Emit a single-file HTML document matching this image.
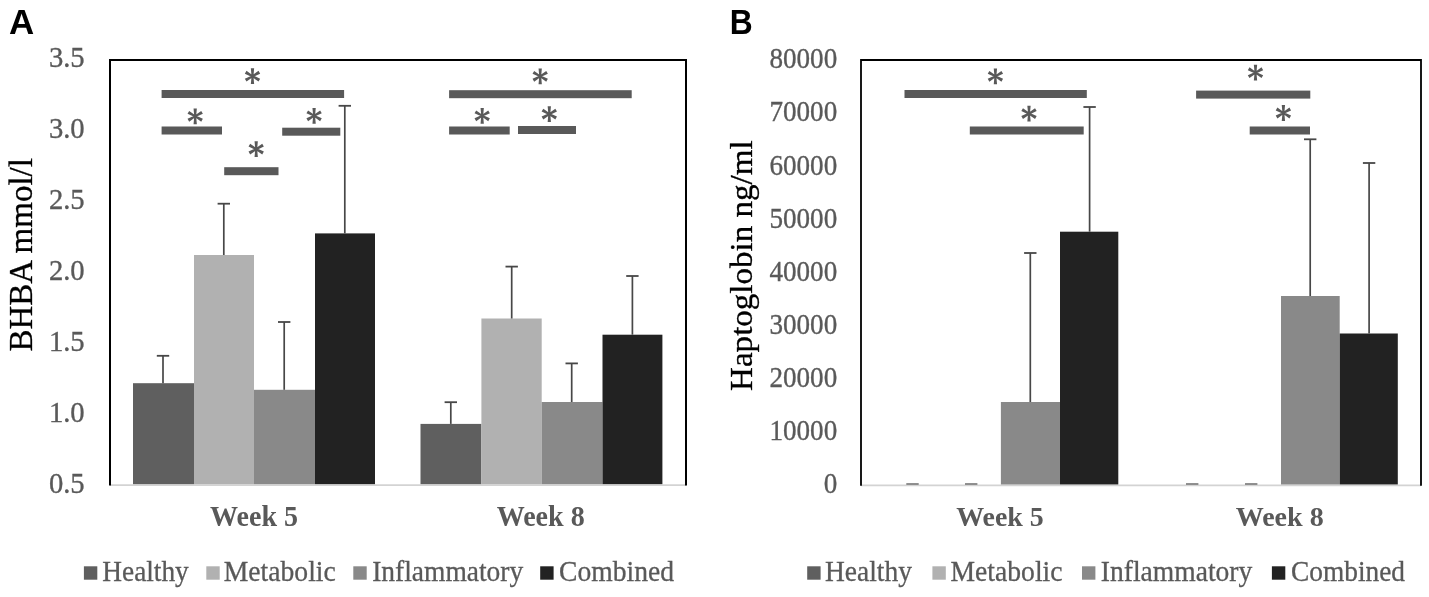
<!DOCTYPE html>
<html><head><meta charset="utf-8"><title>Figure</title>
<style>
html,body{margin:0;padding:0;background:#fff;width:1429px;height:597px;overflow:hidden}
svg{display:block;will-change:transform}
text{font-family:"Liberation Serif",serif}
.tick{fill:#595959;stroke:#595959;stroke-width:0.35px}
.ytitle{fill:#000;stroke:#000;stroke-width:0.3px}
.letter{font-family:"Liberation Sans",sans-serif;font-weight:bold;fill:#000}
.cat{font-weight:bold;fill:#595959}
.leg{fill:#595959;stroke:#595959;stroke-width:0.3px}
</style></head><body>
<svg width="1429" height="597" viewBox="0 0 1429 597">
<rect width="1429" height="597" fill="#fff"/>
<rect x="133" y="383.2" width="61.00" height="101.30" fill="#5f5f5f"/>
<line x1="163" y1="383.2" x2="163" y2="355.8" stroke="#474747" stroke-width="1.7"/>
<line x1="156.8" y1="355.8" x2="169.2" y2="355.8" stroke="#474747" stroke-width="1.8"/>
<rect x="194" y="255" width="60.00" height="229.50" fill="#b1b1b1"/>
<line x1="223.8" y1="255" x2="223.8" y2="203.7" stroke="#474747" stroke-width="1.7"/>
<line x1="217.60000000000002" y1="203.7" x2="230.0" y2="203.7" stroke="#474747" stroke-width="1.8"/>
<rect x="254" y="389.8" width="61.00" height="94.70" fill="#898989"/>
<line x1="284.2" y1="389.8" x2="284.2" y2="322" stroke="#474747" stroke-width="1.7"/>
<line x1="278.0" y1="322" x2="290.4" y2="322" stroke="#474747" stroke-width="1.8"/>
<rect x="315" y="233.4" width="60.00" height="251.10" fill="#222222"/>
<line x1="344.8" y1="233.4" x2="344.8" y2="105.8" stroke="#474747" stroke-width="1.7"/>
<line x1="338.6" y1="105.8" x2="351.0" y2="105.8" stroke="#474747" stroke-width="1.8"/>
<rect x="420.5" y="423.9" width="60.90" height="60.60" fill="#5f5f5f"/>
<line x1="450.8" y1="423.9" x2="450.8" y2="402.2" stroke="#474747" stroke-width="1.7"/>
<line x1="444.6" y1="402.2" x2="457.0" y2="402.2" stroke="#474747" stroke-width="1.8"/>
<rect x="481.4" y="318.5" width="60.30" height="166.00" fill="#b1b1b1"/>
<line x1="511.7" y1="318.5" x2="511.7" y2="266.6" stroke="#474747" stroke-width="1.7"/>
<line x1="505.5" y1="266.6" x2="517.9" y2="266.6" stroke="#474747" stroke-width="1.8"/>
<rect x="541.7" y="402" width="60.80" height="82.50" fill="#898989"/>
<line x1="571.7" y1="402" x2="571.7" y2="363.4" stroke="#474747" stroke-width="1.7"/>
<line x1="565.5" y1="363.4" x2="577.9000000000001" y2="363.4" stroke="#474747" stroke-width="1.8"/>
<rect x="602.5" y="334.7" width="59.90" height="149.80" fill="#222222"/>
<line x1="632.4" y1="334.7" x2="632.4" y2="276" stroke="#474747" stroke-width="1.7"/>
<line x1="626.1999999999999" y1="276" x2="638.6" y2="276" stroke="#474747" stroke-width="1.8"/>
<line x1="110" y1="485.05" x2="686" y2="485.05" stroke="#d3d3d3" stroke-width="1.8"/>
<path d="M110 485.5 L110 60 L686 60 L686 485.5" fill="none" stroke="#000" stroke-width="2"/>
<rect x="161.6" y="90" width="182.50" height="8" fill="#595959"/>
<rect x="161.6" y="126.5" width="60.40" height="8" fill="#595959"/>
<rect x="282.2" y="127.7" width="58.10" height="8" fill="#595959"/>
<rect x="224.2" y="167.2" width="54.30" height="8" fill="#595959"/>
<rect x="449.1" y="90.2" width="182.60" height="8" fill="#595959"/>
<rect x="449.1" y="126.5" width="60.60" height="8" fill="#595959"/>
<rect x="518" y="126" width="58.00" height="8" fill="#595959"/>
<path d="M253.45 76.20L254.15 68.30L250.85 68.30L251.55 76.20ZM251.55 76.20L250.85 84.10L254.15 84.10L253.45 76.20ZM252.97 77.02L260.17 73.68L258.52 70.82L252.03 75.38ZM252.97 75.38L246.48 70.82L244.83 73.68L252.03 77.02ZM252.03 75.38L244.83 78.72L246.48 81.58L252.97 77.02ZM252.03 77.02L258.52 81.58L260.17 78.72L252.97 75.38Z" fill="#595959"/><circle cx="252.5" cy="76.2" r="1.3" fill="#595959"/>
<path d="M196.15 116.30L196.85 108.40L193.55 108.40L194.25 116.30ZM194.25 116.30L193.55 124.20L196.85 124.20L196.15 116.30ZM195.67 117.12L202.87 113.78L201.22 110.92L194.72 115.48ZM195.67 115.48L189.18 110.92L187.53 113.78L194.72 117.12ZM194.72 115.48L187.53 118.82L189.18 121.68L195.67 117.12ZM194.72 117.12L201.22 121.68L202.87 118.82L195.67 115.48Z" fill="#595959"/><circle cx="195.2" cy="116.3" r="1.3" fill="#595959"/>
<path d="M315.05 115.80L315.75 107.90L312.45 107.90L313.15 115.80ZM313.15 115.80L312.45 123.70L315.75 123.70L315.05 115.80ZM314.58 116.62L321.77 113.28L320.12 110.42L313.62 114.98ZM314.58 114.98L308.08 110.42L306.43 113.28L313.62 116.62ZM313.62 114.98L306.43 118.32L308.08 121.18L314.58 116.62ZM313.62 116.62L320.12 121.18L321.77 118.32L314.58 114.98Z" fill="#595959"/><circle cx="314.1" cy="115.8" r="1.3" fill="#595959"/>
<path d="M257.15 149.10L257.85 141.20L254.55 141.20L255.25 149.10ZM255.25 149.10L254.55 157.00L257.85 157.00L257.15 149.10ZM256.68 149.92L263.87 146.58L262.22 143.72L255.72 148.28ZM256.68 148.28L250.18 143.72L248.53 146.58L255.72 149.92ZM255.72 148.28L248.53 151.62L250.18 154.48L256.68 149.92ZM255.72 149.92L262.22 154.48L263.87 151.62L256.68 148.28Z" fill="#595959"/><circle cx="256.2" cy="149.1" r="1.3" fill="#595959"/>
<path d="M541.15 76.30L541.85 68.40L538.55 68.40L539.25 76.30ZM539.25 76.30L538.55 84.20L541.85 84.20L541.15 76.30ZM540.68 77.12L547.87 73.78L546.22 70.92L539.73 75.48ZM540.68 75.48L534.18 70.92L532.53 73.78L539.73 77.12ZM539.73 75.48L532.53 78.82L534.18 81.68L540.68 77.12ZM539.73 77.12L546.22 81.68L547.87 78.82L540.68 75.48Z" fill="#595959"/><circle cx="540.2" cy="76.3" r="1.3" fill="#595959"/>
<path d="M483.15 115.80L483.85 107.90L480.55 107.90L481.25 115.80ZM481.25 115.80L480.55 123.70L483.85 123.70L483.15 115.80ZM482.68 116.62L489.87 113.28L488.22 110.42L481.72 114.98ZM482.68 114.98L476.18 110.42L474.53 113.28L481.72 116.62ZM481.72 114.98L474.53 118.32L476.18 121.18L482.68 116.62ZM481.72 116.62L488.22 121.18L489.87 118.32L482.68 114.98Z" fill="#595959"/><circle cx="482.2" cy="115.8" r="1.3" fill="#595959"/>
<path d="M550.25 114.10L550.95 106.20L547.65 106.20L548.35 114.10ZM548.35 114.10L547.65 122.00L550.95 122.00L550.25 114.10ZM549.77 114.92L556.97 111.58L555.32 108.72L548.82 113.28ZM549.77 113.28L543.28 108.72L541.63 111.58L548.82 114.92ZM548.82 113.28L541.63 116.62L543.28 119.48L549.77 114.92ZM548.82 114.92L555.32 119.48L556.97 116.62L549.77 113.28Z" fill="#595959"/><circle cx="549.3" cy="114.1" r="1.3" fill="#595959"/>
<rect x="83.9" y="566.3" width="13.4" height="13.4" fill="#5f5f5f"/>
<rect x="206.3" y="566.3" width="13.4" height="13.4" fill="#b1b1b1"/>
<rect x="353.3" y="566.3" width="13.4" height="13.4" fill="#898989"/>
<rect x="540.2" y="566.3" width="13.4" height="13.4" fill="#222222"/>
<text x="48.9" y="67.4" class="tick" style="font-size:30.2px" textLength="35.8" lengthAdjust="spacingAndGlyphs">3.5</text>
<text x="48.9" y="138.3" class="tick" style="font-size:30.2px" textLength="35.8" lengthAdjust="spacingAndGlyphs">3.0</text>
<text x="48.9" y="209.2" class="tick" style="font-size:30.2px" textLength="35.8" lengthAdjust="spacingAndGlyphs">2.5</text>
<text x="48.9" y="280.1" class="tick" style="font-size:30.2px" textLength="35.8" lengthAdjust="spacingAndGlyphs">2.0</text>
<text x="48.9" y="351.0" class="tick" style="font-size:30.2px" textLength="35.8" lengthAdjust="spacingAndGlyphs">1.5</text>
<text x="48.9" y="421.9" class="tick" style="font-size:30.2px" textLength="35.8" lengthAdjust="spacingAndGlyphs">1.0</text>
<text x="48.9" y="492.8" class="tick" style="font-size:30.2px" textLength="35.8" lengthAdjust="spacingAndGlyphs">0.5</text>
<text transform="translate(31.6 351.6) rotate(-90)" class="ytitle" style="font-size:34.6px" textLength="193.5" lengthAdjust="spacingAndGlyphs">BHBA mmol/l</text>
<text x="8.9" y="33.7" class="letter" style="font-size:34.6px" textLength="25.2" lengthAdjust="spacingAndGlyphs">A</text>
<text x="210" y="525.7" class="cat" style="font-size:28.4px" textLength="88" lengthAdjust="spacingAndGlyphs">Week 5</text>
<text x="496.7" y="525.7" class="cat" style="font-size:28.4px" textLength="88" lengthAdjust="spacingAndGlyphs">Week 8</text>
<text x="102.3" y="580.8" class="leg" style="font-size:29px" textLength="86.5" lengthAdjust="spacingAndGlyphs">Healthy</text>
<text x="223.8" y="580.8" class="leg" style="font-size:29px" textLength="112" lengthAdjust="spacingAndGlyphs">Metabolic</text>
<text x="372.2" y="580.8" class="leg" style="font-size:29px" textLength="151" lengthAdjust="spacingAndGlyphs">Inflammatory</text>
<text x="559.0" y="580.8" class="leg" style="font-size:29px" textLength="115" lengthAdjust="spacingAndGlyphs">Combined</text>
<line x1="912.5" y1="484.8" x2="912.5" y2="484.3" stroke="#474747" stroke-width="1.7"/>
<line x1="906.3" y1="484.3" x2="918.7" y2="484.3" stroke="#474747" stroke-width="1.8"/>
<line x1="971.2" y1="484.8" x2="971.2" y2="484.3" stroke="#474747" stroke-width="1.7"/>
<line x1="965.0" y1="484.3" x2="977.4000000000001" y2="484.3" stroke="#474747" stroke-width="1.8"/>
<rect x="1000.9" y="402" width="59.10" height="82.80" fill="#898989"/>
<line x1="1030.3" y1="402" x2="1030.3" y2="253" stroke="#474747" stroke-width="1.7"/>
<line x1="1024.1" y1="253" x2="1036.5" y2="253" stroke="#474747" stroke-width="1.8"/>
<rect x="1060" y="231.7" width="58.30" height="253.10" fill="#222222"/>
<line x1="1089.6" y1="231.7" x2="1089.6" y2="107" stroke="#474747" stroke-width="1.7"/>
<line x1="1083.3999999999999" y1="107" x2="1095.8" y2="107" stroke="#474747" stroke-width="1.8"/>
<line x1="1192.2" y1="484.8" x2="1192.2" y2="484.3" stroke="#474747" stroke-width="1.7"/>
<line x1="1186.0" y1="484.3" x2="1198.4" y2="484.3" stroke="#474747" stroke-width="1.8"/>
<line x1="1251.2" y1="484.8" x2="1251.2" y2="484.3" stroke="#474747" stroke-width="1.7"/>
<line x1="1245.0" y1="484.3" x2="1257.4" y2="484.3" stroke="#474747" stroke-width="1.8"/>
<rect x="1281" y="296" width="58.70" height="188.80" fill="#898989"/>
<line x1="1310.2" y1="296" x2="1310.2" y2="139.3" stroke="#474747" stroke-width="1.7"/>
<line x1="1304.0" y1="139.3" x2="1316.4" y2="139.3" stroke="#474747" stroke-width="1.8"/>
<rect x="1339.7" y="333.5" width="58.10" height="151.30" fill="#222222"/>
<line x1="1369.1" y1="333.5" x2="1369.1" y2="163" stroke="#474747" stroke-width="1.7"/>
<line x1="1362.8999999999999" y1="163" x2="1375.3" y2="163" stroke="#474747" stroke-width="1.8"/>
<line x1="861" y1="485.35" x2="1421" y2="485.35" stroke="#d3d3d3" stroke-width="1.8"/>
<path d="M861 485.8 L861 60 L1421 60 L1421 485.8" fill="none" stroke="#000" stroke-width="1.8"/>
<rect x="904.5" y="90" width="182.30" height="8" fill="#595959"/>
<rect x="969.8" y="126.5" width="113.90" height="8" fill="#595959"/>
<rect x="1196.1" y="90.6" width="114.20" height="8" fill="#595959"/>
<rect x="1249.7" y="126.5" width="60.30" height="8" fill="#595959"/>
<path d="M996.35 76.30L997.05 68.40L993.75 68.40L994.45 76.30ZM994.45 76.30L993.75 84.20L997.05 84.20L996.35 76.30ZM995.88 77.12L1003.07 73.78L1001.42 70.92L994.92 75.48ZM995.88 75.48L989.38 70.92L987.73 73.78L994.92 77.12ZM994.92 75.48L987.73 78.82L989.38 81.68L995.88 77.12ZM994.92 77.12L1001.42 81.68L1003.07 78.82L995.88 75.48Z" fill="#595959"/><circle cx="995.4" cy="76.3" r="1.3" fill="#595959"/>
<path d="M1029.95 113.60L1030.65 105.70L1027.35 105.70L1028.05 113.60ZM1028.05 113.60L1027.35 121.50L1030.65 121.50L1029.95 113.60ZM1029.47 114.42L1036.67 111.08L1035.02 108.22L1028.53 112.78ZM1029.47 112.78L1022.98 108.22L1021.33 111.08L1028.53 114.42ZM1028.53 112.78L1021.33 116.12L1022.98 118.98L1029.47 114.42ZM1028.53 114.42L1035.02 118.98L1036.67 116.12L1029.47 112.78Z" fill="#595959"/><circle cx="1029" cy="113.6" r="1.3" fill="#595959"/>
<path d="M1256.45 72.70L1257.15 64.80L1253.85 64.80L1254.55 72.70ZM1254.55 72.70L1253.85 80.60L1257.15 80.60L1256.45 72.70ZM1255.97 73.52L1263.17 70.18L1261.52 67.32L1255.03 71.88ZM1255.97 71.88L1249.48 67.32L1247.83 70.18L1255.03 73.52ZM1255.03 71.88L1247.83 75.22L1249.48 78.08L1255.97 73.52ZM1255.03 73.52L1261.52 78.08L1263.17 75.22L1255.97 71.88Z" fill="#595959"/><circle cx="1255.5" cy="72.7" r="1.3" fill="#595959"/>
<path d="M1284.35 113.00L1285.05 105.10L1281.75 105.10L1282.45 113.00ZM1282.45 113.00L1281.75 120.90L1285.05 120.90L1284.35 113.00ZM1283.88 113.82L1291.07 110.48L1289.42 107.62L1282.93 112.18ZM1283.88 112.18L1277.38 107.62L1275.73 110.48L1282.93 113.82ZM1282.93 112.18L1275.73 115.52L1277.38 118.38L1283.88 113.82ZM1282.93 113.82L1289.42 118.38L1291.07 115.52L1283.88 112.18Z" fill="#595959"/><circle cx="1283.4" cy="113" r="1.3" fill="#595959"/>
<rect x="807.2" y="566.3" width="13.4" height="13.4" fill="#5f5f5f"/>
<rect x="932.4" y="566.3" width="13.4" height="13.4" fill="#b1b1b1"/>
<rect x="1082" y="566.3" width="13.4" height="13.4" fill="#898989"/>
<rect x="1271.9" y="566.3" width="13.4" height="13.4" fill="#222222"/>
<text x="837.2" y="68.2" class="tick" style="font-size:29.4px" textLength="67.75" lengthAdjust="spacingAndGlyphs" text-anchor="end">80000</text>
<text x="837.2" y="121.35" class="tick" style="font-size:29.4px" textLength="67.75" lengthAdjust="spacingAndGlyphs" text-anchor="end">70000</text>
<text x="837.2" y="174.5" class="tick" style="font-size:29.4px" textLength="67.75" lengthAdjust="spacingAndGlyphs" text-anchor="end">60000</text>
<text x="837.2" y="227.65" class="tick" style="font-size:29.4px" textLength="67.75" lengthAdjust="spacingAndGlyphs" text-anchor="end">50000</text>
<text x="837.2" y="280.8" class="tick" style="font-size:29.4px" textLength="67.75" lengthAdjust="spacingAndGlyphs" text-anchor="end">40000</text>
<text x="837.2" y="333.95" class="tick" style="font-size:29.4px" textLength="67.75" lengthAdjust="spacingAndGlyphs" text-anchor="end">30000</text>
<text x="837.2" y="387.1" class="tick" style="font-size:29.4px" textLength="67.75" lengthAdjust="spacingAndGlyphs" text-anchor="end">20000</text>
<text x="837.2" y="440.25" class="tick" style="font-size:29.4px" textLength="67.75" lengthAdjust="spacingAndGlyphs" text-anchor="end">10000</text>
<text x="837.2" y="493.4" class="tick" style="font-size:29.4px" textLength="13.55" lengthAdjust="spacingAndGlyphs" text-anchor="end">0</text>
<text transform="translate(752.2 390.9) rotate(-90)" class="ytitle" style="font-size:32.2px" textLength="250.5" lengthAdjust="spacingAndGlyphs">Haptoglobin ng/ml</text>
<text x="729.8" y="33.7" class="letter" style="font-size:34.2px" textLength="22.95" lengthAdjust="spacingAndGlyphs">B</text>
<text x="956.2" y="525.6" class="cat" style="font-size:27.0px" textLength="87.6" lengthAdjust="spacingAndGlyphs">Week 5</text>
<text x="1235.7" y="525.6" class="cat" style="font-size:27.0px" textLength="88" lengthAdjust="spacingAndGlyphs">Week 8</text>
<text x="825.0" y="580.8" class="leg" style="font-size:29px" textLength="87" lengthAdjust="spacingAndGlyphs">Healthy</text>
<text x="950.5" y="580.8" class="leg" style="font-size:29px" textLength="112" lengthAdjust="spacingAndGlyphs">Metabolic</text>
<text x="1100.8" y="580.8" class="leg" style="font-size:29px" textLength="151.5" lengthAdjust="spacingAndGlyphs">Inflammatory</text>
<text x="1291.0" y="580.8" class="leg" style="font-size:29px" textLength="114" lengthAdjust="spacingAndGlyphs">Combined</text>
</svg>
</body></html>
